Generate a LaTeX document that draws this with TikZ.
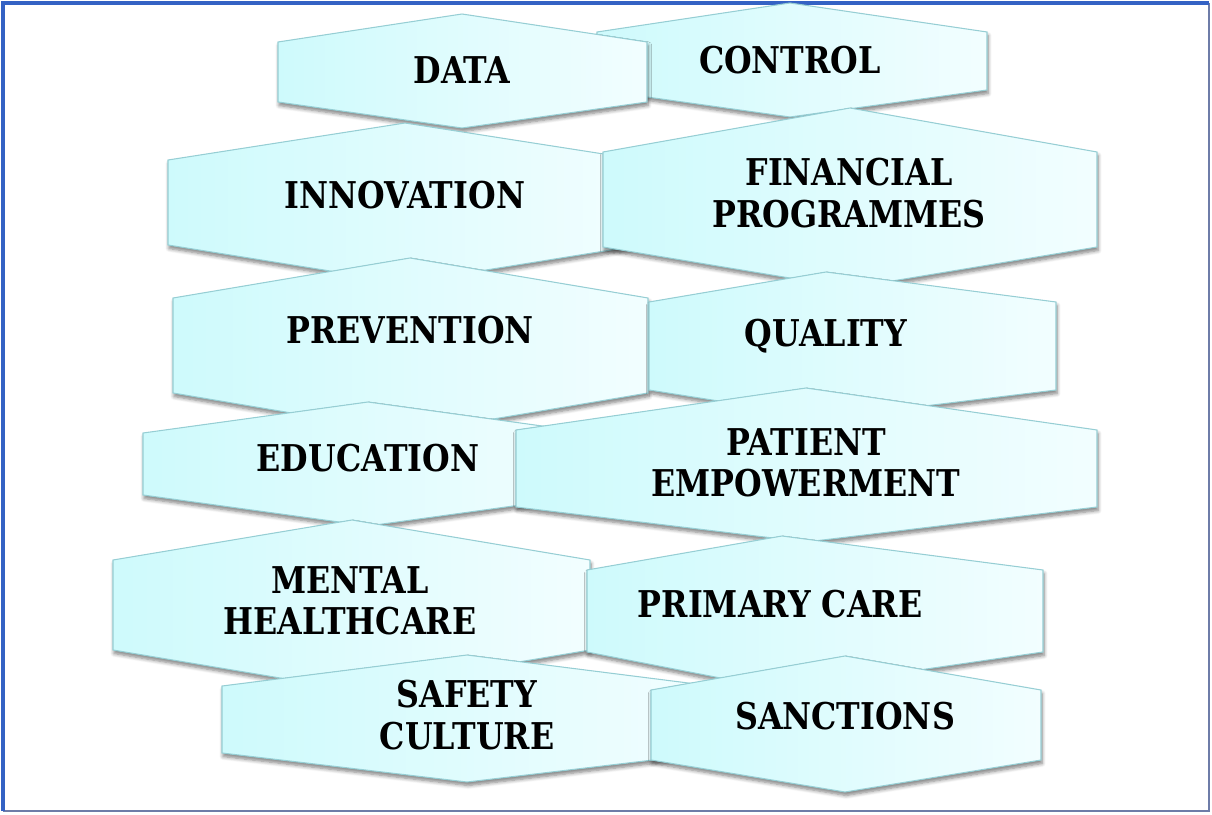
\documentclass[tikz,border=0pt]{standalone}
\usepackage{fontspec}
\setmainfont[FakeStretch=0.86]{DejaVu Serif}
\usetikzlibrary{shadows.blur}
\definecolor{hexleft}{RGB}{206,250,252}
\definecolor{hexright}{RGB}{242,254,255}
\definecolor{hexline}{RGB}{150,206,212}
\definecolor{frameblue}{RGB}{52,98,196}
\definecolor{framegray}{RGB}{110,124,168}
% left, right, peak x, top, upper side, lower side, bottom
\newcommand{\hexcell}[7]{%
    \path[hex] (#1,#5) -- (#3,#4) -- (#2,#5) -- (#2,#6) -- (#3,#7) -- (#1,#6) -- cycle;
}

\begin{document}
\begin{tikzpicture}[x=0.02cm, y=-0.02cm]
\tikzset{hex/.style={left color=hexleft, right color=hexright, draw=hexline, line width=0.6pt,
    blur shadow={shadow xshift=0.6pt, shadow yshift=-2pt, shadow opacity=50, shadow blur steps=6}}}
\tikzset{hextext/.style={align=center, font=\fontsize{21}{23.5}\selectfont\bfseries, inner sep=0pt}}

\useasboundingbox (0,0) rectangle (1212,814);

%% frame
\draw[framegray, line width=0.9pt] (1209,3) -- (1209,811) -- (3,811);
\draw[frameblue, line width=1.8pt] (3,811) -- (3,3) -- (1209,3);

%% row 1
\hexcell{597}{987}{790}{3}{32}{90}{117}
\node[hextext] (control) at (790,60) {CONTROL};
\hexcell{278}{647}{462}{14}{42}{102}{128}
\node[hextext] (data) at (462,70) {DATA};

%% row 2
\hexcell{168}{642}{405}{123}{160}{245}{283}
\node[hextext] (innov) at (405,195) {INNOVATION};
\hexcell{603}{1097}{850}{108}{152}{247}{288}
\node[hextext] (finance) at (849,193) {FINANCIAL\\PROGRAMMES};

%% row 3
\hexcell{173}{648}{410}{258}{298}{393}{433}
\node[hextext] (prevent) at (410,330) {PREVENTION};
\hexcell{649}{1056}{826}{272}{302}{390}{418}
\node[hextext] (quality) at (826,336) {QUALITY};

%% row 4
\hexcell{143}{593}{368}{402}{433}{495}{526}
\node[hextext] (educ) at (368,458) {EDUCATION};
\hexcell{516}{1097}{806}{388}{430}{507}{542}
\node[hextext] (patient) at (806,463) {PATIENT\\EMPOWERMENT};

%% row 5
\hexcell{113}{590}{352}{520}{560}{650}{690}
\node[hextext] (mental) at (350,601) {MENTAL\\HEALTHCARE};
\hexcell{587}{1043}{782}{536}{570}{652}{690}
\node[hextext] (primary) at (780,604) {PRIMARY CARE};

%% row 6
\hexcell{222}{712}{467}{655}{686}{753}{782}
\node[hextext] (safety) at (467,715) {SAFETY\\CULTURE};
\hexcell{651}{1041}{845}{656}{690}{760}{792}
\node[hextext] (sanction) at (845,716) {SANCTIONS};

\end{tikzpicture}
\end{document}
